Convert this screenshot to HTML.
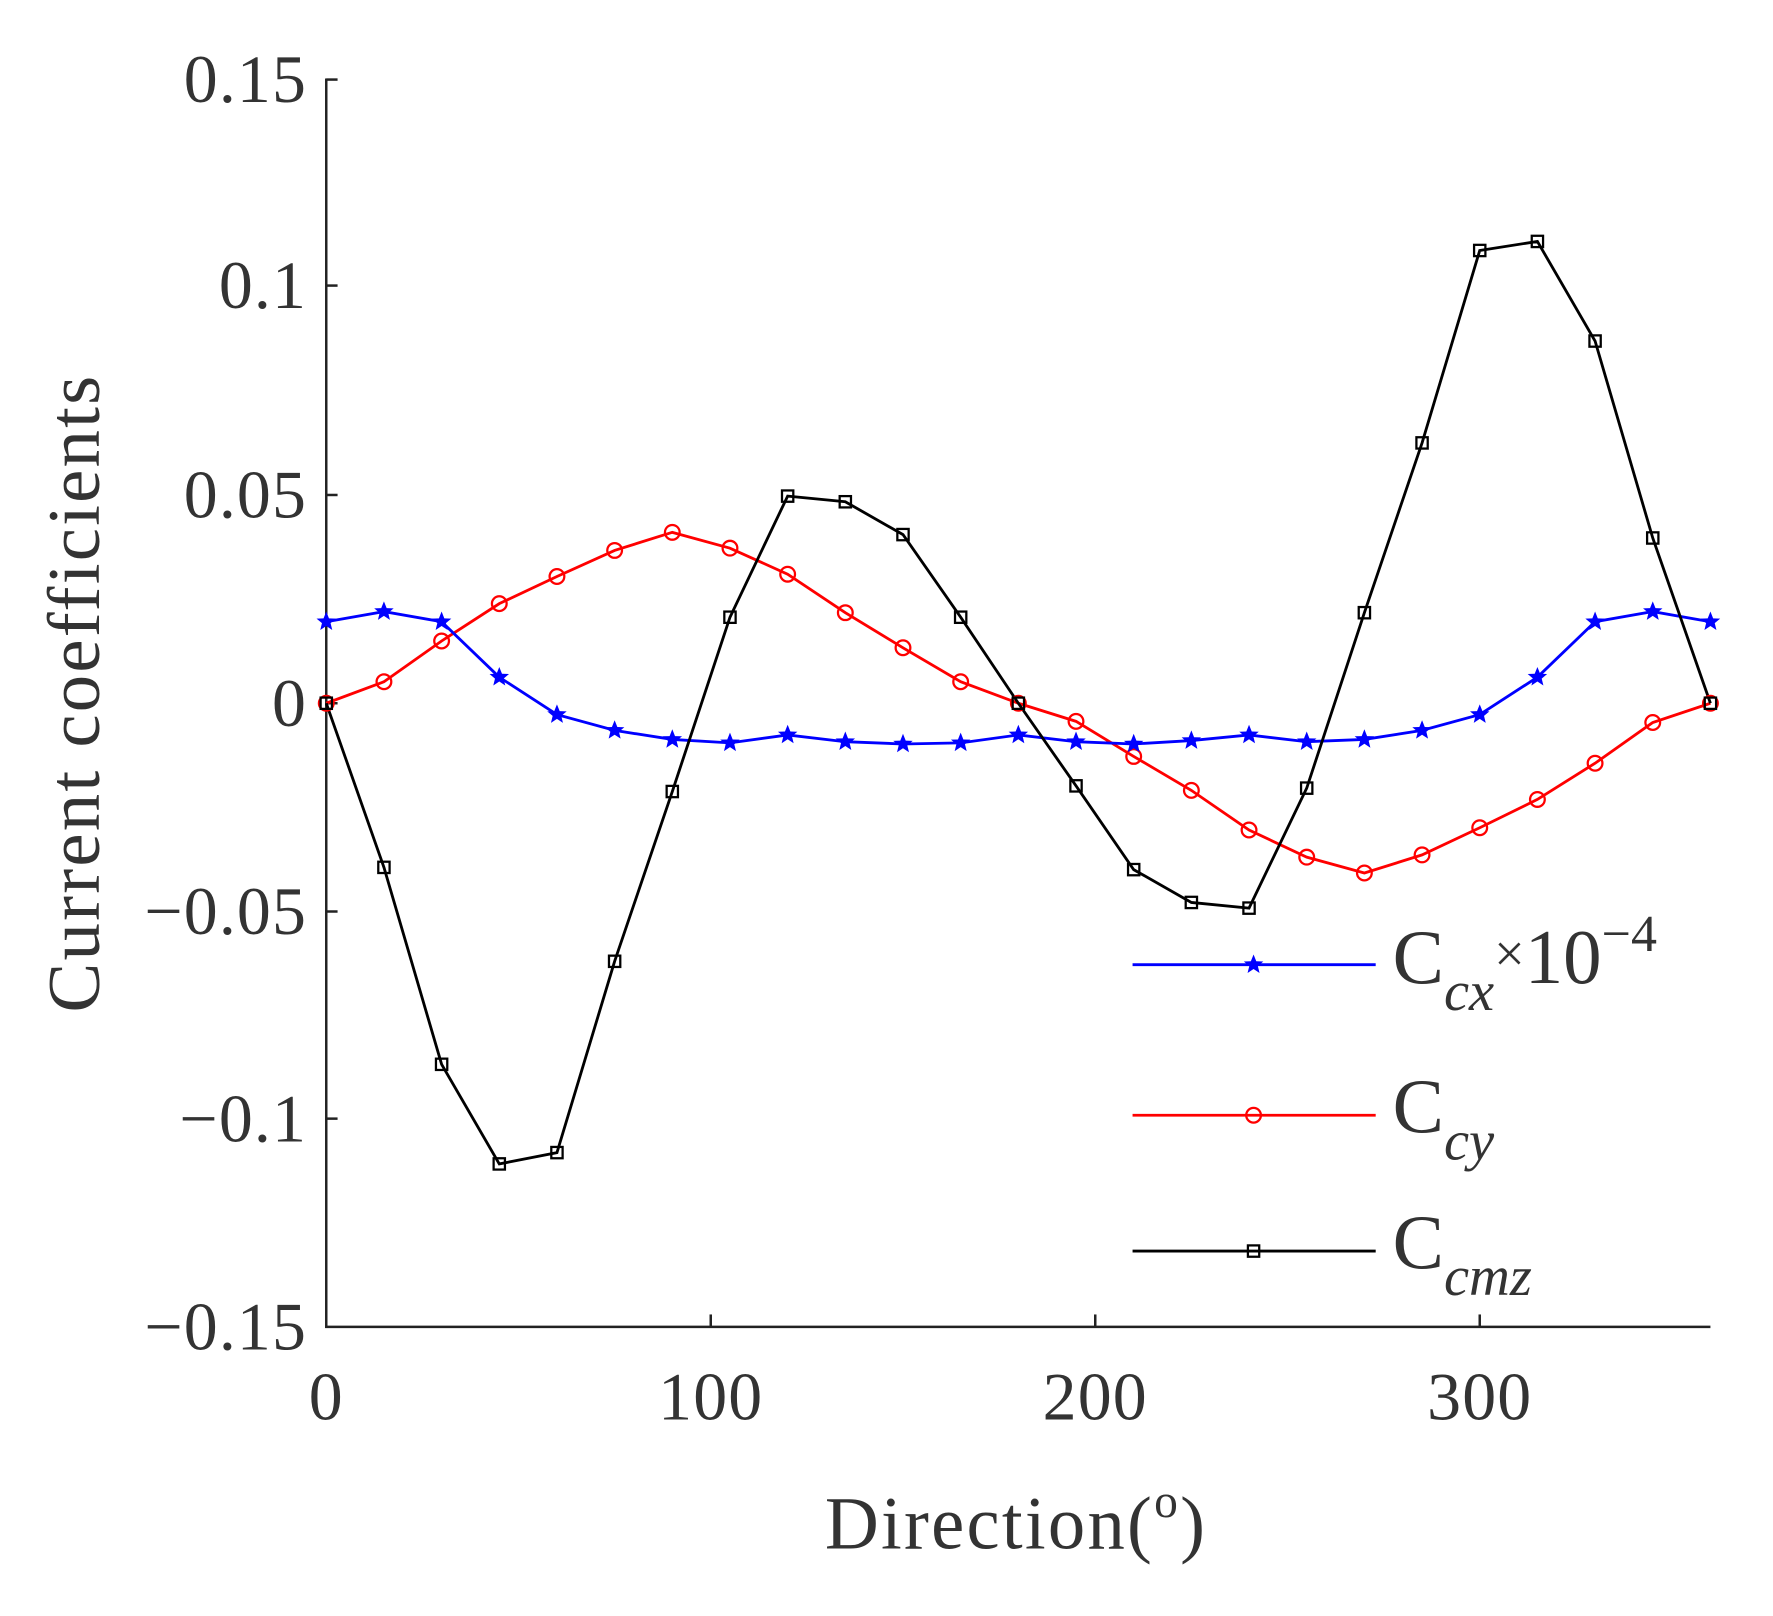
<!DOCTYPE html>
<html><head><meta charset="utf-8"><style>
html,body{margin:0;padding:0;background:#fff;width:1773px;height:1616px;overflow:hidden}
svg{display:block}
text{font-family:"Liberation Serif",serif;fill:#333}
</style></head><body>
<svg width="1773" height="1616" viewBox="0 0 1560 1422" preserveAspectRatio="none">
<defs>
<g id="sq"><rect x="-5" y="-5" width="10" height="10" fill="none" stroke="#000" stroke-width="2"/></g>
<g id="ci"><circle r="6.5" fill="none" stroke="#f00" stroke-width="2"/></g>
<g id="st"><polygon points="0,-9 2.4,-3 8.6,-2.8 3.8,1.2 5.3,7.3 0,3.8 -5.3,7.3 -3.8,1.2 -8.6,-2.8 -2.4,-3" fill="#00f"/></g>
</defs>
<g transform="translate(1.5,0.3) scale(0.995,0.996)">
<g stroke="#222" stroke-width="2.2" fill="none">
<line x1="287" y1="69" x2="287" y2="1173"/>
<line x1="286" y1="1172" x2="1511" y2="1172"/>
<line x1="287" y1="70" x2="297" y2="70"/>
<line x1="287" y1="252" x2="297" y2="252"/>
<line x1="287" y1="437" x2="297" y2="437"/>
<line x1="287" y1="621" x2="297" y2="621"/>
<line x1="287" y1="805" x2="297" y2="805"/>
<line x1="287" y1="988" x2="297" y2="988"/>
<line x1="627" y1="1172" x2="627" y2="1161"/>
<line x1="967" y1="1172" x2="967" y2="1161"/>
<line x1="1307" y1="1172" x2="1307" y2="1161"/>
</g>
<g font-size="60" text-anchor="end" letter-spacing="1">
<text x="270" y="90">0.15</text>
<text x="270" y="272">0.1</text>
<text x="270" y="457">0.05</text>
<text x="270" y="641">0</text>
<text x="270" y="825">−0.05</text>
<text x="270" y="1008">−0.1</text>
<text x="270" y="1192">−0.15</text>
</g>
<g font-size="60" text-anchor="middle" letter-spacing="1">
<text x="287" y="1254">0</text>
<text x="627" y="1254">100</text>
<text x="967" y="1254">200</text>
<text x="1307" y="1254">300</text>
</g>
<text x="897" y="1368" font-size="66" text-anchor="middle" letter-spacing="2">Direction(<tspan font-size="42" dy="-28">o</tspan><tspan dy="28">)</tspan></text>
<text x="0" y="0" font-size="66" text-anchor="middle" letter-spacing="2" transform="translate(86,612) rotate(-90)">Current coefficients</text>

<polyline fill="none" stroke="#f00" stroke-width="2.5" points="287,621 338,602 389,566 440,533 491,509 542,486 593,470 644,484 695,507 746,541 797,572 848,602 899,621 950,637 1001,668 1052,698 1103,733 1154,757 1205,771 1256,755 1307,731 1358,706 1409,674 1460,638 1511,621"/>
<polyline fill="none" stroke="#00f" stroke-width="2.5" points="287,549 338,540 389,549 440,598 491,631 542,645 593,653 644,656 695,649 746,655 797,657 848,656 899,649 950,655 1001,657 1052,654 1103,649 1154,655 1205,653 1256,645 1307,631 1358,598 1409,549 1460,540 1511,549"/>
<polyline fill="none" stroke="#000" stroke-width="2.5" points="287,621 338,766 389,940 440,1028 491,1018 542,849 593,699 644,545 695,438 746,443 797,472 848,545 899,621 950,694 1001,768 1052,797 1103,802 1154,696 1205,541 1256,391 1307,221 1358,213 1409,301 1460,475 1511,621"/>

<g>
<use href="#ci" x="287" y="621"/><use href="#ci" x="338" y="602"/><use href="#ci" x="389" y="566"/><use href="#ci" x="440" y="533"/><use href="#ci" x="491" y="509"/><use href="#ci" x="542" y="486"/><use href="#ci" x="593" y="470"/><use href="#ci" x="644" y="484"/><use href="#ci" x="695" y="507"/><use href="#ci" x="746" y="541"/><use href="#ci" x="797" y="572"/><use href="#ci" x="848" y="602"/><use href="#ci" x="899" y="621"/><use href="#ci" x="950" y="637"/><use href="#ci" x="1001" y="668"/><use href="#ci" x="1052" y="698"/><use href="#ci" x="1103" y="733"/><use href="#ci" x="1154" y="757"/><use href="#ci" x="1205" y="771"/><use href="#ci" x="1256" y="755"/><use href="#ci" x="1307" y="731"/><use href="#ci" x="1358" y="706"/><use href="#ci" x="1409" y="674"/><use href="#ci" x="1460" y="638"/><use href="#ci" x="1511" y="621"/>
</g>
<g>
<use href="#st" x="287" y="549"/><use href="#st" x="338" y="540"/><use href="#st" x="389" y="549"/><use href="#st" x="440" y="598"/><use href="#st" x="491" y="631"/><use href="#st" x="542" y="645"/><use href="#st" x="593" y="653"/><use href="#st" x="644" y="656"/><use href="#st" x="695" y="649"/><use href="#st" x="746" y="655"/><use href="#st" x="797" y="657"/><use href="#st" x="848" y="656"/><use href="#st" x="899" y="649"/><use href="#st" x="950" y="655"/><use href="#st" x="1001" y="657"/><use href="#st" x="1052" y="654"/><use href="#st" x="1103" y="649"/><use href="#st" x="1154" y="655"/><use href="#st" x="1205" y="653"/><use href="#st" x="1256" y="645"/><use href="#st" x="1307" y="631"/><use href="#st" x="1358" y="598"/><use href="#st" x="1409" y="549"/><use href="#st" x="1460" y="540"/><use href="#st" x="1511" y="549"/>
</g>
<g>
<use href="#sq" x="287" y="621"/><use href="#sq" x="338" y="766"/><use href="#sq" x="389" y="940"/><use href="#sq" x="440" y="1028"/><use href="#sq" x="491" y="1018"/><use href="#sq" x="542" y="849"/><use href="#sq" x="593" y="699"/><use href="#sq" x="644" y="545"/><use href="#sq" x="695" y="438"/><use href="#sq" x="746" y="443"/><use href="#sq" x="797" y="472"/><use href="#sq" x="848" y="545"/><use href="#sq" x="899" y="621"/><use href="#sq" x="950" y="694"/><use href="#sq" x="1001" y="768"/><use href="#sq" x="1052" y="797"/><use href="#sq" x="1103" y="802"/><use href="#sq" x="1154" y="696"/><use href="#sq" x="1205" y="541"/><use href="#sq" x="1256" y="391"/><use href="#sq" x="1307" y="221"/><use href="#sq" x="1358" y="213"/><use href="#sq" x="1409" y="301"/><use href="#sq" x="1460" y="475"/><use href="#sq" x="1511" y="621"/>
</g>

<line x1="1000" y1="852" x2="1215" y2="852" stroke="#00f" stroke-width="2.5"/><use href="#st" x="1107" y="852"/>
<line x1="1000" y1="985" x2="1215" y2="985" stroke="#f00" stroke-width="2.5"/><use href="#ci" x="1107" y="985"/>
<line x1="1000" y1="1105" x2="1215" y2="1105" stroke="#000" stroke-width="2.5"/><use href="#sq" x="1107" y="1105"/>
<g font-size="68">
<text x="1230" y="868">C<tspan font-size="50" font-style="italic" dy="24">cx</tspan><tspan font-size="48" dy="-34">×</tspan><tspan dy="10">10</tspan><tspan font-size="46" dy="-28">−4</tspan></text>
<text x="1230" y="1000">C<tspan font-size="50" font-style="italic" dy="24">cy</tspan></text>
<text x="1230" y="1120">C<tspan font-size="50" font-style="italic" dy="24">cmz</tspan></text>
</g>
</g>
</svg>
</body></html>
